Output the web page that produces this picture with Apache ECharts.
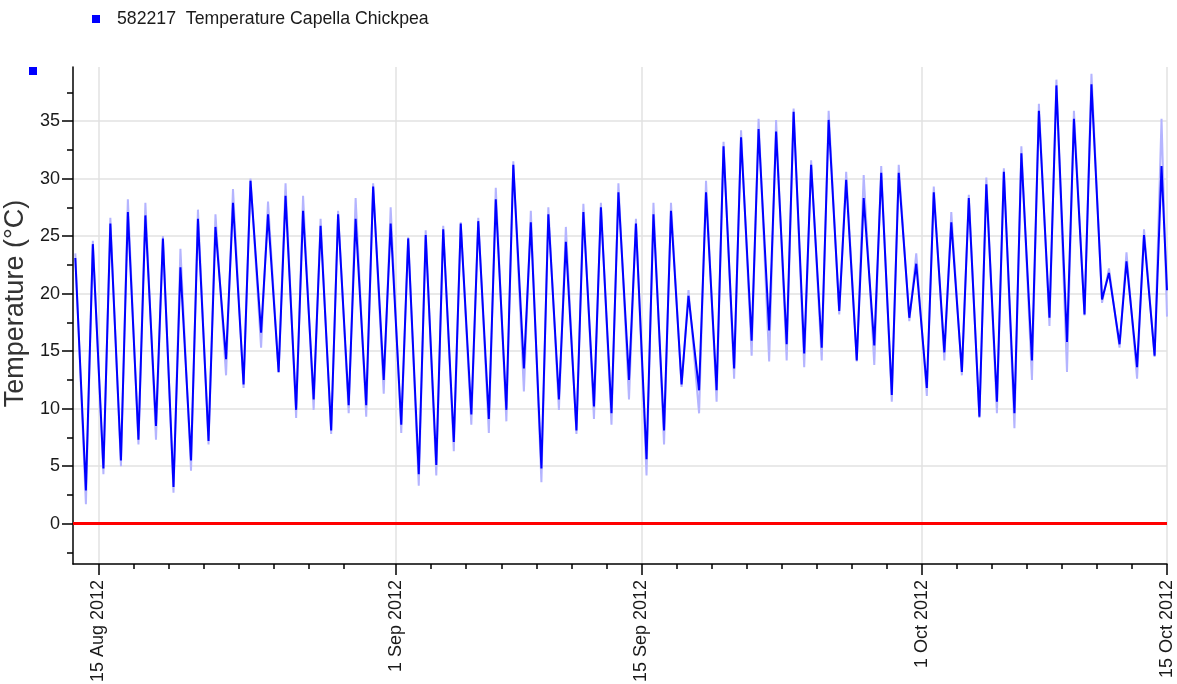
<!DOCTYPE html>
<html>
<head>
<meta charset="utf-8">
<title>582217 Temperature Capella Chickpea</title>
<script src="https://cdn.jsdelivr.net/npm/echarts@6/dist/echarts.min.js"></script>
<style>
  html, body { margin: 0; padding: 0; background: #fff; }
  #chart { width: 1177px; height: 684px; }
</style>
</head>
<body>
<div id="chart"></div>
<script>
const seriesName = '582217  Temperature Capella Chickpea'
const rangeName = 'range'

// one low (morning) and one high (afternoon) reading per day, 14 Aug .. 14 Oct 2012
const firstDay = '2012-08-14'
const lowHour = 7
const highHour = 16.5

const startHigh = ['2012-08-13 16:30', 23.1]
const startHighLight = 23.5
const endReading = ['2012-10-15 00:00', 20.3]
const endReadingLight = 18.0

const dailyLow = [
  2.9, 4.8, 5.5, 7.3, 8.5, 3.2, 5.5, 7.2, 14.3, 12.1, 16.6, 13.2, 9.9, 10.8, 8.1, 10.3, 10.3, 12.5,
  8.6, 4.3, 5.1, 7.1, 9.5, 9.1, 9.9, 13.5, 4.8, 10.8, 8.1, 10.2, 9.6, 12.5, 5.6, 8.1, 12.1, 11.6,
  11.6, 13.5, 15.9, 16.8, 15.6, 14.8, 15.3, 18.5, 14.2, 15.5, 11.2, 17.9,
  11.8, 14.9, 13.2, 9.3, 10.6, 9.6, 14.2, 17.9, 15.8, 18.2, 19.5, 15.6, 13.6, 14.6,
]
const dailyHigh = [
  24.3, 26.1, 27.1, 26.8, 24.8, 22.3, 26.5, 25.8, 27.9, 29.8, 26.9, 28.5, 27.2, 25.9, 26.9, 26.5, 29.3, 26.1,
  24.8, 25.1, 25.6, 26.1, 26.3, 28.2, 31.2, 26.2, 26.9, 24.5, 27.1, 27.5, 28.8, 26.1, 26.9, 27.2, 19.8, 28.8,
  32.8, 33.6, 34.3, 34.1, 35.8, 31.2, 35.1, 29.9, 28.3, 30.5, 30.5, 22.6,
  28.8, 26.2, 28.3, 29.5, 30.6, 32.2, 35.9, 38.1, 35.2, 38.2, 21.8, 22.8, 25.1, 31.1,
]
// lighter trace: the extremes reach a little further
const dailyLowLight = [
  1.7, 4.3, 5.0, 6.9, 7.3, 2.7, 4.6, 6.9, 12.9, 11.8, 15.3, 13.1, 9.2, 9.9, 7.8, 9.6, 9.3, 11.3,
  7.9, 3.3, 4.2, 6.3, 8.6, 7.9, 8.9, 11.5, 3.6, 9.9, 7.8, 9.1, 8.6, 10.8, 4.2, 6.9, 11.9, 9.6,
  10.6, 12.6, 14.6, 14.1, 14.2, 13.6, 14.2, 18.2, 14.1, 13.8, 10.6, 17.6,
  11.1, 14.2, 12.9, 9.2, 9.6, 8.3, 12.5, 17.2, 13.2, 18.1, 19.2, 15.3, 12.6, 14.5,
]
const dailyHighLight = [
  24.6, 26.6, 28.2, 27.9, 25.0, 23.9, 27.3, 26.9, 29.1, 30.0, 28.0, 29.6, 28.5, 26.5, 27.2, 28.3, 29.6, 27.5,
  24.9, 25.5, 25.9, 26.2, 26.6, 29.2, 31.5, 27.2, 27.5, 25.8, 27.8, 27.9, 29.6, 26.5, 27.9, 27.9, 20.3, 29.8,
  33.2, 34.2, 35.2, 35.1, 36.1, 31.6, 35.9, 30.6, 30.3, 31.1, 31.2, 23.5,
  29.3, 27.1, 28.6, 30.1, 30.9, 32.8, 36.5, 38.6, 35.9, 39.1, 22.2, 23.6, 25.6, 35.2,
]

const majorTicks = ['2012-08-15', '2012-09-01', '2012-09-15', '2012-10-01', '2012-10-15']
const minorTicks = [
  '2012-08-17', '2012-08-19', '2012-08-21', '2012-08-23', '2012-08-25', '2012-08-27', '2012-08-29',
  '2012-09-03', '2012-09-05', '2012-09-07', '2012-09-09', '2012-09-11', '2012-09-13',
  '2012-09-17', '2012-09-19', '2012-09-21', '2012-09-23', '2012-09-25', '2012-09-27', '2012-09-29',
  '2012-10-03', '2012-10-05', '2012-10-07', '2012-10-09', '2012-10-11', '2012-10-13',
]
const yTicks = [0, 5, 10, 15, 20, 25, 30, 35]
const yMinorTicks = [-2.5, 2.5, 7.5, 12.5, 17.5, 22.5, 27.5, 32.5, 37.5]

const months = ['Jan', 'Feb', 'Mar', 'Apr', 'May', 'Jun', 'Jul', 'Aug', 'Sep', 'Oct', 'Nov', 'Dec']

// 'YYYY-MM-DD[ HH:mm]' -> local timestamp
const toTime = (s, addDays = 0, hours = 0) => {
  const [date, time] = s.split(' ')
  const [y, m, d] = date.split('-').map(Number)
  const [hh, mm] = time ? time.split(':').map(Number) : [0, 0]
  return new Date(y, m - 1, d + addDays, hh, mm).getTime() + hours * 3600 * 1000
}

const buildPoints = (first, lows, highs, last) => {
  const pts = [[toTime(first[0]), first[1]]]
  lows.forEach((low, i) => {
    pts.push([toTime(firstDay, i, lowHour), low])
    pts.push([toTime(firstDay, i, highHour), highs[i]])
  })
  pts.push([toTime(last[0]), last[1]])
  return pts
}

const darkPoints = buildPoints(startHigh, dailyLow, dailyHigh, endReading)
const lightPoints = buildPoints(
  [startHigh[0], startHighLight], dailyLowLight, dailyHighLight, [endReading[0], endReadingLight]
)

const fontFamily = '"Liberation Sans", Arial, sans-serif'
const xMin = toTime('2012-08-13 13:20')
const xMax = toTime('2012-10-15 00:00')
const majorTickValues = majorTicks.map((s) => toTime(s))
const minorTickValues = minorTicks.map((s) => toTime(s))

const chart = echarts.init(document.getElementById('chart'))

const option = {
  animation: false,
  textStyle: { fontFamily },
  legend: {
    data: [{ name: seriesName, icon: 'rect' }],
    left: 87,
    top: 5,
    itemWidth: 8,
    itemHeight: 8,
    textStyle: { fontSize: 17.7, color: '#1a1a1a', padding: [0, 0, 0, 12] },
  },
  grid: { left: 73, right: 10, top: 67, bottom: 120, outerBoundsMode: 'none', containLabel: false },
  xAxis: [
    {
      type: 'value',
      position: 'bottom',
      min: xMin,
      max: xMax,
      axisLine: { show: true, onZero: false, lineStyle: { color: '#000', width: 1.5 } },
      axisTick: { show: true, customValues: majorTickValues, length: 11, lineStyle: { color: '#000', width: 1.5 } },
      axisLabel: {
        customValues: majorTickValues,
        rotate: 90,
        margin: 16,
        fontSize: 18,
        color: '#1a1a1a',
        formatter: (v) => {
          const d = new Date(v)
          return d.getDate() + ' ' + months[d.getMonth()] + ' ' + d.getFullYear()
        },
      },
      splitLine: { show: true, lineStyle: { color: '#e2e2e2', width: 1.5 } },
    },
    {
      type: 'value',
      position: 'bottom',
      min: xMin,
      max: xMax,
      axisLine: { show: false, onZero: false },
      axisTick: { show: true, customValues: minorTickValues, length: 5, lineStyle: { color: '#000', width: 1.5 } },
      axisLabel: { show: false },
      splitLine: { show: false },
    },
  ],
  yAxis: [
    {
      type: 'value',
      position: 'left',
      min: -3.5,
      max: 39.7,
      name: 'Temperature (°C)',
      nameLocation: 'middle',
      nameGap: 40,
      nameTextStyle: { fontSize: 27, color: '#333', padding: [0, 0, 0, 24] },
      axisLine: { show: true, onZero: false, lineStyle: { color: '#000', width: 1.5 } },
      axisTick: { show: true, customValues: yTicks, length: 11, lineStyle: { color: '#000', width: 1.5 } },
      axisLabel: { customValues: yTicks, margin: 13, fontSize: 18, color: '#1a1a1a' },
      splitLine: { show: true, lineStyle: { color: '#e2e2e2', width: 1.5 } },
    },
    {
      type: 'value',
      position: 'left',
      min: -3.5,
      max: 39.7,
      axisLine: { show: false, onZero: false },
      axisTick: { show: true, customValues: yMinorTicks, length: 6, lineStyle: { color: '#000', width: 1.5 } },
      axisLabel: { show: false },
      splitLine: { show: false },
    },
  ],
  graphic: [
    {
      type: 'rect',
      left: 29,
      top: 67,
      shape: { width: 8, height: 8 },
      style: { fill: '#0000ff' },
    },
  ],
  series: [
    {
      name: rangeName,
      type: 'line',
      data: lightPoints,
      showSymbol: false,
      lineStyle: { color: '#b4b4ff', width: 2 },
      itemStyle: { color: '#b4b4ff' },
      z: 2,
    },
    {
      name: seriesName,
      type: 'line',
      data: darkPoints,
      showSymbol: false,
      lineStyle: { color: '#0000ff', width: 2 },
      itemStyle: { color: '#0000ff' },
      z: 3,
      markLine: {
        silent: true,
        symbol: 'none',
        label: { show: false },
        lineStyle: { color: '#ff0000', width: 3, type: 'solid' },
        data: [{ yAxis: 0 }],
      },
    },
  ],
}

chart.setOption(option)
window.addEventListener('resize', () => chart.resize())
</script>
</body>
</html>
